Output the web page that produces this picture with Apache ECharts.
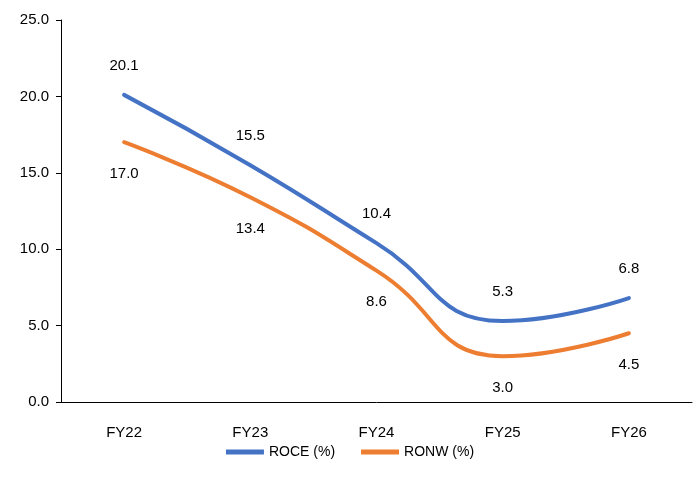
<!DOCTYPE html>
<html><head><meta charset="utf-8">
<script src="https://cdn.jsdelivr.net/npm/echarts@6/dist/echarts.min.js"></script>
<style>html,body{margin:0;padding:0;background:#fff}#c{width:700px;height:492px}</style>
</head><body><div id="c"></div>
<script>
const categories = ['FY22','FY23','FY24','FY25','FY26'];
const roce = [20.1, 15.5, 10.4, 5.3, 6.8];
const ronw = [17.0, 13.4, 8.6, 3.0, 4.5];
const yTicks = [0, 5, 10, 15, 20, 25];

const FONT = "'Liberation Sans',sans-serif";
const FS = 15;
const chart = echarts.init(document.getElementById('c'));
chart.setOption({
  animation: false,
  textStyle: {fontFamily: FONT},
  grid: {left: 61, right: 8, top: 20, bottom: 90},
  legend: {
    bottom: 28, left: 'center',
    itemWidth: 38, itemHeight: 5, itemGap: 26,
    icon: 'rect',
    textStyle: {fontFamily: FONT, fontSize: 14, color: '#000'},
    data: ['ROCE (%)', 'RONW (%)']
  },
  xAxis: {
    type: 'category', data: categories, boundaryGap: true,
    axisLine: {lineStyle: {color: '#000', width: 1}},
    axisTick: {show: false},
    axisLabel: {color: '#000', fontSize: FS, margin: 23, fontFamily: FONT}
  },
  yAxis: {
    type: 'value', min: yTicks[0], max: yTicks[yTicks.length-1], interval: 5,
    splitLine: {show: false},
    axisLine: {show: true, lineStyle: {color: '#000', width: 1}},
    axisTick: {show: true, length: 5, lineStyle: {color: '#000'}},
    axisLabel: {color: '#000', fontSize: FS, margin: 12, fontFamily: FONT,
      formatter: v => v.toFixed(1)}
  },
  series: [
    {name: 'ROCE (%)', type: 'line', data: roce, smooth: 0.5, symbol: 'circle', symbolSize: 0, showSymbol: true,
     lineStyle: {color: '#4472C4', width: 4, cap: 'round'}, itemStyle: {color: '#4472C4'},
     label: {show: true, position: 'top', distance: 22, color: '#000', fontSize: FS, fontFamily: FONT,
       formatter: p => p.value.toFixed(1)}},
    {name: 'RONW (%)', type: 'line', data: ronw, smooth: 0.5, symbol: 'circle', symbolSize: 0, showSymbol: true,
     lineStyle: {color: '#ED7D31', width: 4, cap: 'round'}, itemStyle: {color: '#ED7D31'},
     label: {show: true, position: 'bottom', distance: 24, color: '#000', fontSize: FS, fontFamily: FONT,
       formatter: p => p.value.toFixed(1)}}
  ]
});
</script></body></html>
